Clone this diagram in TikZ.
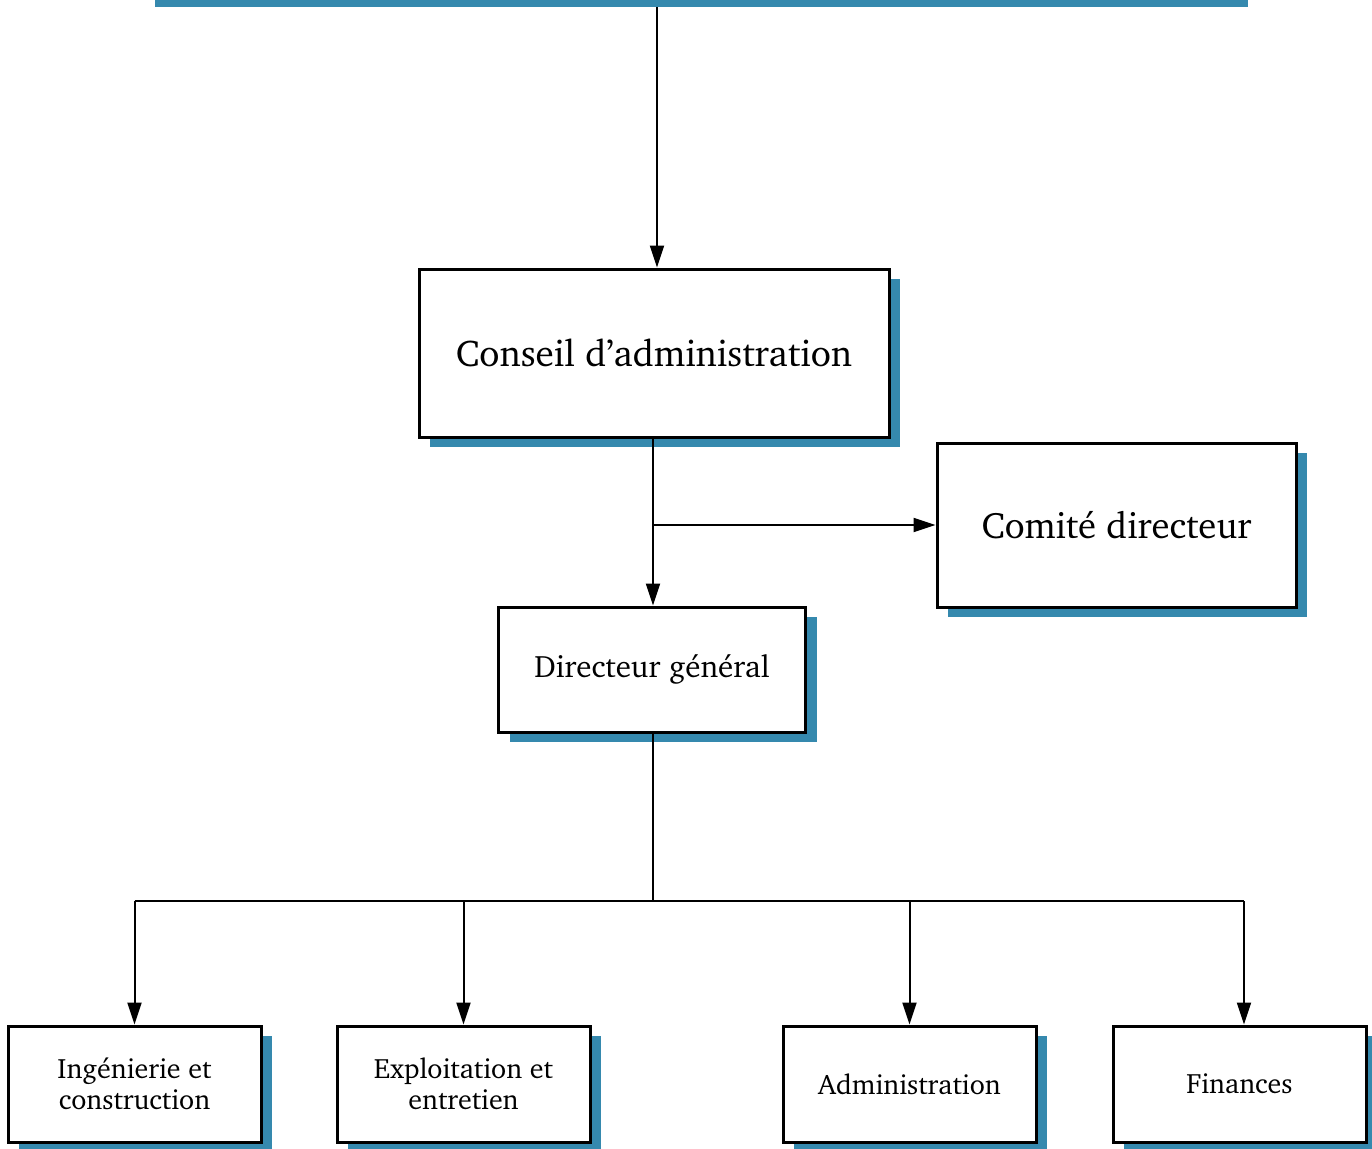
\documentclass[tikz,border=0pt]{standalone}
\usepackage[T1]{fontenc}
\usepackage{charter}
\usetikzlibrary{arrows.meta,shadows}
\definecolor{shadowblue}{RGB}{53,137,174}
\tikzset{
  orgbox/.style={draw=black, line width=3pt, fill=white, align=center,
    inner sep=0pt,
    general shadow={fill=shadowblue, shadow xshift=11pt, shadow yshift=-10pt}},
  conn/.style={line width=2pt},
  arr/.style={line width=2pt, -{Triangle[length=22pt,width=14pt]}}
}
\begin{document}
\begin{tikzpicture}[x=1pt,y=-1pt]
\useasboundingbox (0,0) rectangle (1372,1148);
\fill[shadowblue] (155,0) rectangle (1248,7);
\node[orgbox, minimum width=470pt, minimum height=168pt, font=\fontsize{37.3}{42}\selectfont] (ca) at (654,353) {Conseil d'administration};
\node[orgbox, minimum width=359pt, minimum height=164pt, font=\fontsize{36.8}{42}\selectfont] (cd) at (1116.5,525) {Comit\'e directeur};
\node[orgbox, minimum width=307pt, minimum height=125pt, font=\fontsize{31}{36}\selectfont] (dg) at (652,669.5) {Directeur g\'en\'eral};
\tikzset{bot/.style={orgbox, minimum width=253pt, minimum height=116pt, font=\fontsize{28}{30.5}\selectfont}}
\node[bot] (ing) at (134.5,1084) {Ing\'enierie et\\construction};
\node[bot] (exp) at (463.5,1084) {Exploitation et\\entretien};
\node[bot] (adm) at (909.5,1084) {Administration};
\node[bot] (fin) at (1239.5,1084) {Finances};
\coordinate (top) at (657,7);
\coordinate (branch) at (653,525);
\coordinate (bar) at (653,901);
\coordinate (finx) at (1244,901);
\draw[arr] (top) -- (top |- ca.north);
\draw[arr] (ca.south -| branch) -- (dg.north -| branch);
\draw[arr] (branch) -- (cd.west);
\draw[conn] (dg.south -| bar) -- (bar);
\draw[conn] (ing.north |- bar) -- (finx);
\draw[arr] (ing.north |- bar) -- (ing.north);
\draw[arr] (exp.north |- bar) -- (exp.north);
\draw[arr] (adm.north |- bar) -- (adm.north);
\draw[arr] (finx) -- (finx |- fin.north);
\end{tikzpicture}
\end{document}
